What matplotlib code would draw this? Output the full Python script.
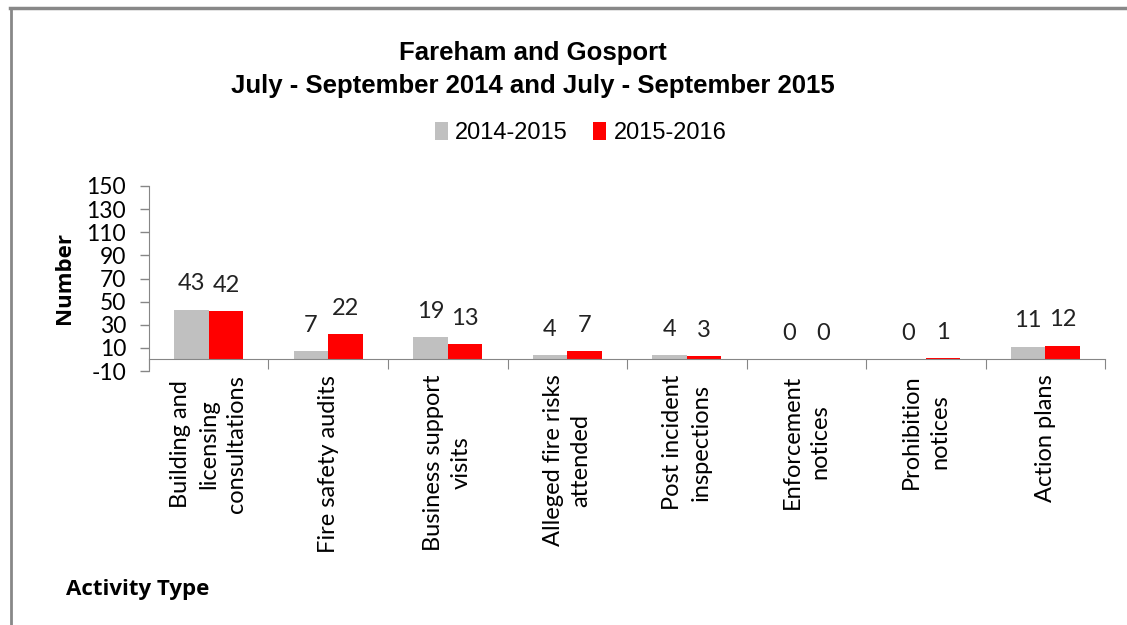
import matplotlib
matplotlib.use('Agg')
import matplotlib.pyplot as plt
from matplotlib.lines import Line2D
import numpy as np

plt.rcParams['axes.unicode_minus'] = False

# data
categories = ['Building and\nlicensing\nconsultations', 'Fire safety audits',
              'Business support\nvisits', 'Alleged fire risks\nattended',
              'Post incident\ninspections', 'Enforcement\nnotices',
              'Prohibition\nnotices', 'Action plans']
series_names = ['2014-2015', '2015-2016']
values_2014 = [43, 7, 19, 4, 4, 0, 0, 11]
values_2015 = [42, 22, 13, 7, 3, 0, 1, 12]
y_ticks = list(range(-10, 151, 20))

GREY = '#C0C0C0'
RED = '#FF0000'
AXIS = '#868686'
BODY = ['Lato', 'DejaVu Sans']
BOLD = ['Open Sans', 'DejaVu Sans']
TITLE = ['Liberation Sans', 'DejaVu Sans']

fig = plt.figure(figsize=(11.27, 6.25), dpi=100)
ax = fig.add_axes([0.1322, 0.4064, 0.8483, 0.296])

x = np.arange(len(categories))
w = 0.29
b1 = ax.bar(x - w / 2, values_2014, w, color=GREY, label=series_names[0], zorder=2)
b2 = ax.bar(x + w / 2, values_2015, w, color=RED, label=series_names[1], zorder=2)

for bars in (b1, b2):
    for rect in bars:
        h = rect.get_height()
        ax.annotate(f'{int(h)}', (rect.get_x() + rect.get_width() / 2, h),
                    xytext=(0, 11), textcoords='offset points',
                    ha='center', va='bottom', fontsize=17,
                    family=BODY, color='#222222')

ax.set_xlim(-0.5, len(categories) - 0.5)
ax.set_ylim(-10, 150)
ax.set_yticks(y_ticks)
ax.tick_params(axis='y', length=6.5, width=1, color=AXIS, pad=10, labelsize=16.5)
for lbl in ax.get_yticklabels():
    lbl.set_family(BODY)

# x axis crosses at zero, ticks between categories
ax.spines['bottom'].set_position(('data', 0))
ax.spines['bottom'].set_color(AXIS)
ax.spines['left'].set_color(AXIS)
ax.spines['top'].set_visible(False)
ax.spines['right'].set_visible(False)
ax.set_xticks(np.arange(len(categories) + 1) - 0.5)
ax.set_xticklabels([])
ax.tick_params(axis='x', which='major', length=7, color=AXIS, direction='out')
ax.set_xticks(x, minor=True)
ax.set_xticklabels(categories, minor=True, rotation=90, fontsize=17,
                   family=BODY, va='top', ha='center', linespacing=1.4)
ax.tick_params(axis='x', which='minor', length=0, pad=11)

ax.set_ylabel('Number', fontsize=16, fontweight='bold', family=BOLD, labelpad=8)

fig.text(0.473, 0.915, 'Fareham and Gosport', ha='center', va='center',
         fontsize=18.5, fontweight='bold', family=TITLE)
fig.text(0.473, 0.862, 'July - September 2014 and July - September 2015',
         ha='center', va='center', fontsize=18.5, fontweight='bold', family=TITLE)

fig.legend(handles=[b1, b2], labels=series_names, loc='center',
           bbox_to_anchor=(0.515, 0.787), ncol=2, frameon=False,
           handlelength=0.55, handleheight=0.75, handletextpad=0.3,
           columnspacing=1.1, prop={'family': TITLE, 'size': 17})

fig.text(0.059, 0.056, 'Activity Type', ha='left', va='center',
         fontsize=16, fontweight='bold', family=BOLD)

# outer frame (top and left edges)
fig.add_artist(Line2D([0.009, 1.0], [0.987, 0.987], color='#888888', lw=2.5,
                      transform=fig.transFigure))
fig.add_artist(Line2D([0.0095, 0.0095], [0.0, 0.987], color='#888888', lw=2,
                      transform=fig.transFigure))

fig.savefig('out.png', dpi=100)
